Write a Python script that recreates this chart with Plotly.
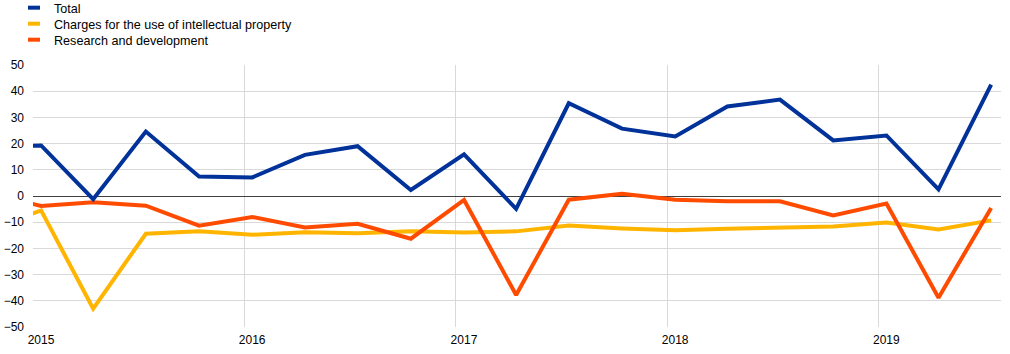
import plotly.graph_objects as go

# Quarterly observations (dated mid-first-month of each quarter), 2014Q4 .. 2019Q3
quarters = ["2014-10-15",
            "2015-01-15", "2015-04-15", "2015-07-15", "2015-10-15",
            "2016-01-15", "2016-04-15", "2016-07-15", "2016-10-15",
            "2017-01-15", "2017-04-15", "2017-07-15", "2017-10-15",
            "2018-01-15", "2018-04-15", "2018-07-15", "2018-10-15",
            "2019-01-15", "2019-04-15", "2019-07-15"]

total = [18.5,
         19.3, -1.2, 24.6, 7.4,
         7.1, 15.7, 19.0, 2.3,
         15.9, -4.9, 35.4, 25.7,
         22.7, 34.2, 36.8, 21.2,
         23.1, 2.5, 42.5]

charges = [-13.0,
           -5.5, -43.0, -14.4, -13.5,
           -14.8, -13.8, -14.2, -13.5,
           -13.9, -13.5, -11.3, -12.4,
           -13.1, -12.5, -12.1, -11.6,
           -10.1, -12.8, -9.3]

rnd = [1.0,
       -3.8, -2.4, -3.7, -11.3,
       -8.0, -12.0, -10.6, -16.3,
       -1.5, -37.8, -1.4, 0.9,
       -1.4, -2.0, -2.0, -7.4,
       -2.9, -38.8, -4.6]

series_names = ["Total", "Charges for the use of intellectual property", "Research and development"]
colors = {"Total": "#003299",
          "Charges for the use of intellectual property": "#FFB400",
          "Research and development": "#FF4B00"}
values = {"Total": total,
          "Charges for the use of intellectual property": charges,
          "Research and development": rnd}

FONT = "Liberation Sans, Arial, sans-serif"
fig = go.Figure()

# data lines (drawing order: yellow, orange, blue)
for name in ["Charges for the use of intellectual property", "Research and development", "Total"]:
    fig.add_trace(go.Scatter(x=quarters, y=values[name], mode="lines", name=name,
                             line=dict(color=colors[name], width=4),
                             showlegend=False, hoverinfo="skip"))

# legend entries (short thick swatches), one legend per row
legend_ids = ["legend", "legend2", "legend3"]
for i, name in enumerate(series_names):
    fig.add_trace(go.Scatter(x=[None], y=[None], mode="markers", name=name,
                             marker=dict(symbol="line-ew", size=8.6,
                                         line=dict(color=colors[name], width=4)),
                             showlegend=True, legend=legend_ids[i]))

row_y = [8, 24, 40]
leg_common = dict(xref="container", yref="container", xanchor="left", yanchor="middle",
                  bgcolor="rgba(0,0,0,0)", borderwidth=0,
                  font=dict(family=FONT, size=12.6, color="#000000"))
fig.update_layout(
    legend=dict(x=14/1010, y=1 - row_y[0]/354, **leg_common),
    legend2=dict(x=14/1010, y=1 - row_y[1]/354, **leg_common),
    legend3=dict(x=14/1010, y=1 - row_y[2]/354, **leg_common),
)

fig.update_layout(
    width=1010, height=354,
    margin=dict(l=33, r=9, t=65, b=27, pad=0, autoexpand=False),
    paper_bgcolor="white", plot_bgcolor="white",
    font=dict(family=FONT, size=12, color="#000000"),
    xaxis=dict(type="date", range=["2015-01-01", "2019-08-01"],
               tick0="2015-01-01", dtick="M12", tickformat="%Y",
               ticklabelshift=8, ticklabelstandoff=4,
               showgrid=True, gridcolor="#d9d9d9", gridwidth=1,
               showline=False, zeroline=False, ticks="",
               tickfont=dict(family=FONT, size=12, color="#000000")),
    yaxis=dict(range=[-50, 50], dtick=10, tick0=0,
               showgrid=True, gridcolor="#d9d9d9", gridwidth=1,
               zeroline=True, zerolinecolor="#404040", zerolinewidth=1,
               showline=False, ticks="", ticklabelstandoff=8,
               tickfont=dict(family=FONT, size=12, color="#000000")),
)

fig.write_html("out.html")
